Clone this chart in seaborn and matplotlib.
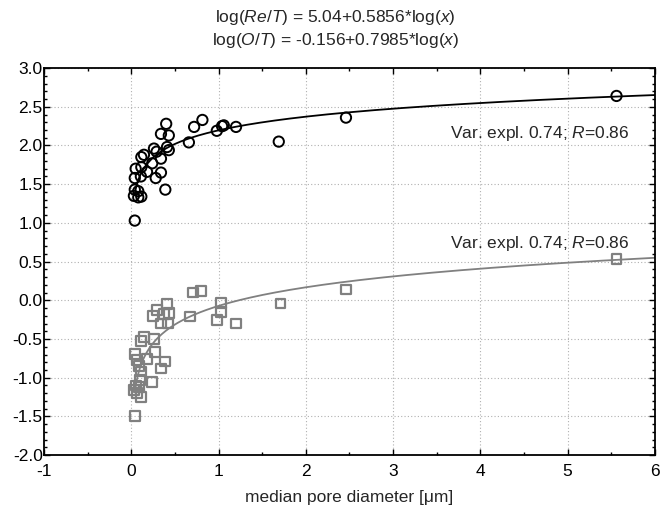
import numpy as np
import pandas as pd
import matplotlib
matplotlib.use("Agg")
import matplotlib.pyplot as plt
from matplotlib.ticker import MultipleLocator
import seaborn as sns

# ---- data ----
re_x = [0.40, 0.815, 0.72, 0.34, 0.43, 0.66, 0.98, 1.04, 1.06, 1.20, 1.69, 2.46, 5.56,
        0.41, 0.43, 0.26, 0.29, 0.34, 0.24, 0.145, 0.115, 0.05, 0.115, 0.18, 0.34, 0.28,
        0.04, 0.11, 0.39, 0.04, 0.08, 0.03, 0.08, 0.115, 0.04]
re_y = [2.28, 2.33, 2.24, 2.15, 2.13, 2.04, 2.19, 2.25, 2.26, 2.24, 2.05, 2.36, 2.64,
        1.98, 1.94, 1.96, 1.92, 1.83, 1.77, 1.88, 1.85, 1.70, 1.72, 1.66, 1.65, 1.58,
        1.58, 1.60, 1.43, 1.43, 1.41, 1.35, 1.33, 1.34, 1.03]

o_x = [0.71, 0.80, 0.41, 0.29, 0.43, 0.25, 0.375, 0.34, 0.42, 0.67, 1.03, 1.03, 0.98,
       1.20, 1.71, 2.46, 5.56, 0.145, 0.115, 0.26, 0.04, 0.06, 0.18, 0.27, 0.39, 0.34,
       0.09, 0.115, 0.10, 0.24, 0.05, 0.09, 0.03, 0.07, 0.115, 0.04]
o_y = [0.10, 0.12, -0.05, -0.13, -0.16, -0.20, -0.18, -0.30, -0.30, -0.21, -0.03, -0.15, -0.25,
       -0.30, -0.04, 0.14, 0.53, -0.47, -0.53, -0.50, -0.69, -0.77, -0.76, -0.67, -0.79, -0.88,
       -0.85, -0.92, -1.03, -1.06, -1.10, -1.12, -1.16, -1.20, -1.25, -1.49]

# fitted curves y = a + b*log10(x)
re_fit = (2.196, 0.5856)
o_fit = (-0.072, 0.7985)
fit_range = (0.04, 6.0)

title_lines = [r"log($\mathit{Re/T}$) = 5.04+0.5856*log($\mathit{x}$)",
               r"log($\mathit{O/T}$) = -0.156+0.7985*log($\mathit{x}$)"]
annot = r"Var. expl. 0.74; $\mathit{R}$=0.86"
xlabel = "median pore diameter [μm]"
xticks = [-1, 0, 1, 2, 3, 4, 5, 6]
yticks = [-2.0, -1.5, -1.0, -0.5, 0.0, 0.5, 1.0, 1.5, 2.0, 2.5, 3.0]

# ---- plotting ----
sns.set_style("ticks")
plt.rcParams['font.family'] = ['Liberation Sans', 'DejaVu Sans']
plt.rcParams['mathtext.fontset'] = 'custom'
plt.rcParams['mathtext.rm'] = 'Liberation Sans'
plt.rcParams['mathtext.it'] = 'Liberation Sans:italic'

fig = plt.figure(figsize=(6.71, 5.08), dpi=100)
ax = fig.add_axes([0.0656, 0.104, 0.9104, 0.762])

xs = np.linspace(fit_range[0], fit_range[1], 400)
curves = pd.DataFrame({
    "x": np.concatenate([xs, xs]),
    "y": np.concatenate([re_fit[0] + re_fit[1] * np.log10(xs),
                         o_fit[0] + o_fit[1] * np.log10(xs)]),
    "s": ["re"] * len(xs) + ["o"] * len(xs),
})
sns.lineplot(data=curves, x="x", y="y", hue="s", palette={"re": "black", "o": "#808080"},
             linewidth=1.3, ax=ax, legend=False, zorder=2)

sns.scatterplot(x=re_x, y=re_y, marker="o", s=55, facecolor="none",
                edgecolor="black", linewidth=1.4, ax=ax, zorder=3)
sns.scatterplot(x=o_x, y=o_y, marker="s", s=50, facecolor="none",
                edgecolor="#808080", linewidth=1.6, ax=ax, zorder=3)

ax.set_xlim(-1, 6)
ax.set_ylim(-2, 3)
ax.set_xticks(xticks)
ax.set_yticks(yticks)
ax.set_xticklabels([str(t) for t in xticks])
ax.set_yticklabels([f"{t:.1f}" for t in yticks])
ax.xaxis.set_minor_locator(MultipleLocator(0.5))
ax.yaxis.set_minor_locator(MultipleLocator(0.1))
ax.tick_params(which="both", direction="in", top=True, right=True, labelsize=12.5,
               colors="black", width=1.0)
ax.tick_params(axis="y", which="major", pad=1)
ax.tick_params(axis="x", which="major", pad=6)
ax.tick_params(which="major", length=4)
ax.tick_params(which="minor", length=2)
for sp in ax.spines.values():
    sp.set_visible(True)
    sp.set_linewidth(1.3)
    sp.set_color("black")
ax.grid(True, which="major", linestyle=(0, (1, 2)), color="#b0b0b0", linewidth=0.8)
ax.set_axisbelow(True)

ax.set_xlabel(xlabel, fontsize=12.5, labelpad=8)
ax.set_ylabel("")

ax.text(5.71, 2.15, annot, ha="right", va="center", fontsize=12.5)
ax.text(5.71, 0.73, annot, ha="right", va="center", fontsize=12.5)

fig.text(0.5, 0.965, title_lines[0], ha="center", va="center", fontsize=12.5)
fig.text(0.5, 0.921, title_lines[1], ha="center", va="center", fontsize=12.5)

fig.savefig("out.png", dpi=100)
